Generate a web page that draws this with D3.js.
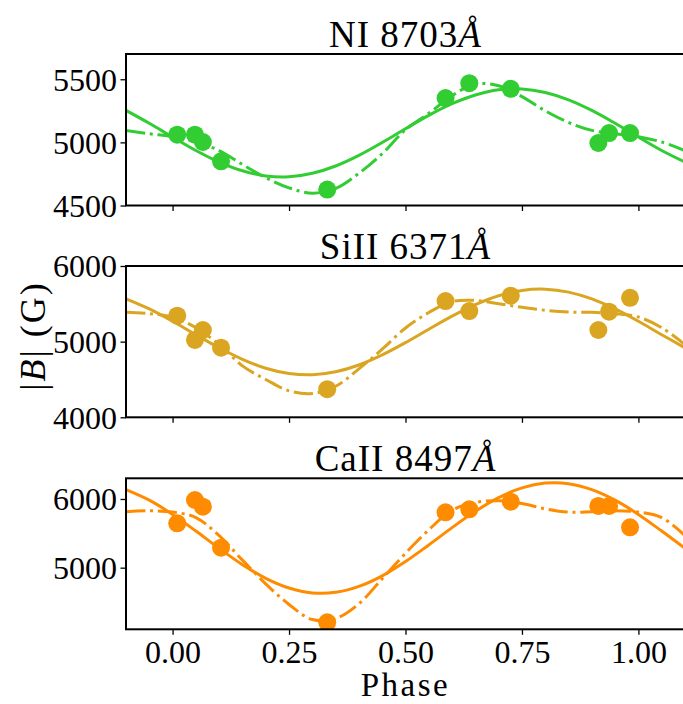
<!DOCTYPE html>
<html>
<head>
<meta charset="utf-8">
<script src="https://cdn.jsdelivr.net/npm/d3@7"></script>
<style>
  html, body { margin: 0; padding: 0; background: #fff; }
  svg { display: block; }
  text { font-family: "Liberation Serif", "DejaVu Serif", serif; fill: #000; }
</style>
</head>
<body>
<svg id="chart" width="683" height="704"></svg>
<script>
// ---------------- DATA ----------------
const phases = [0.010, 0.048, 0.065, 0.104, 0.332, 0.586, 0.637, 0.726, 0.914, 0.937, 0.982];

const niValues   = [5061, 5061, 5003, 4850, 4626, 5351, 5469, 5424, 4995, 5074, 5074];
const siValues   = [5343, 5022, 5154, 4921, 4372, 5537, 5405, 5607, 5154, 5396, 5580];
const caValues   = [5646, 5985, 5888, 5291, 4205, 5806, 5850, 5961, 5898, 5898, 5588];

const curvePhases = [-0.10, -0.05, 0.00, 0.05, 0.10, 0.15, 0.20, 0.25, 0.30, 0.35, 0.40, 0.45,
                      0.50, 0.55, 0.60, 0.65, 0.70, 0.75, 0.80, 0.85, 0.90, 0.95, 1.00, 1.05, 1.10];

const niSolid = [5253, 5151, 5042, 4936, 4844, 4775, 4734, 4727, 4755, 4813, 4897, 4999,
                 5108, 5214, 5306, 5375, 5416, 5423, 5395, 5337, 5253, 5151, 5042, 4936, 4844];
const niDashDot = [5095, 5068, 5045, 5003, 4935, 4825, 4720, 4640, 4598, 4635, 4755, 4910,
                   5100, 5230, 5370, 5462, 5448, 5362, 5250, 5158, 5095, 5068, 5045, 5003, 4935];

const siSolid = [5565, 5432, 5269, 5092, 4919, 4767, 4649, 4579, 4562, 4601, 4691, 4824,
                 4987, 5164, 5337, 5489, 5607, 5677, 5694, 5655, 5565, 5432, 5269, 5092, 4919];
const siDashDot = [5388, 5370, 5325, 5185, 4960, 4680, 4500, 4350, 4315, 4410, 4640, 4900,
                   5180, 5385, 5530, 5545, 5500, 5455, 5415, 5392, 5388, 5370, 5325, 5185, 4960];

const caSolid = [6137, 5983, 5775, 5533, 5281, 5044, 4845, 4704, 4633, 4641, 4727, 4881,
                 5089, 5331, 5583, 5820, 6019, 6161, 6231, 6223, 6137, 5983, 5775, 5533, 5281];
const caDashDot = [5815, 5828, 5810, 5730, 5465, 5110, 4765, 4465, 4245, 4260, 4475, 4840,
                   5210, 5550, 5835, 5950, 5975, 5935, 5855, 5808, 5815, 5828, 5810, 5730, 5465];

const panelTitles = ["NI 8703", "SiII 6371", "CaII 8497"];
const panelColors = ["#32CD32", "#DAA520", "#FF8C00"];
const panelDomains = [[4500, 5700], [4000, 6000], [4103, 6301]];
const panelYTicks = [[4500, 5000, 5500], [4000, 5000, 6000], [5000, 6000]];
const xTicks = [0.00, 0.25, 0.50, 0.75, 1.00];
const xDomain = [-0.1, 1.1];

// ---------------- LAYOUT ----------------
const svg = d3.select("#chart");
const left = 126, right = 685;
const panelTops = [54, 266, 478.3];
const panelBottoms = [205.5, 417.3, 629.3];

const x = d3.scaleLinear().domain(xDomain).range([left, right]);

const panels = [
  { values: niValues, solid: niSolid, dash: niDashDot },
  { values: siValues, solid: siSolid, dash: siDashDot },
  { values: caValues, solid: caSolid, dash: caDashDot }
];

const tickFont = 32;

panels.forEach((p, i) => {
  const top = panelTops[i], bottom = panelBottoms[i];
  const y = d3.scaleLinear().domain(panelDomains[i]).range([bottom, top]);
  const color = panelColors[i];
  const g = svg.append("g");

  const clipId = "clip" + i;
  svg.append("clipPath").attr("id", clipId)
    .append("rect").attr("x", left).attr("y", top)
    .attr("width", right - left).attr("height", bottom - top);

  const line = d3.line()
    .x((d, k) => x(curvePhases[k]))
    .y(d => y(d))
    .curve(d3.curveCatmullRom.alpha(0.5));

  const plot = g.append("g").attr("clip-path", `url(#${clipId})`);
  plot.append("path").datum(p.solid)
    .attr("d", line).attr("fill", "none")
    .attr("stroke", color).attr("stroke-width", 3);
  plot.append("path").datum(p.dash)
    .attr("d", line).attr("fill", "none")
    .attr("stroke", color).attr("stroke-width", 3)
    .attr("stroke-dasharray", "19.2,4.8,3,4.8");

  plot.selectAll("circle").data(p.values).enter().append("circle")
    .attr("cx", (d, k) => x(phases[k]))
    .attr("cy", d => y(d))
    .attr("r", 9)
    .attr("fill", color);

  // axes
  const yAxis = d3.axisLeft(y).tickValues(panelYTicks[i]).tickSize(5.5).tickPadding(3.5)
    .tickFormat(d3.format("d"));
  const ya = g.append("g").attr("transform", `translate(${left},0)`).call(yAxis);
  ya.select(".domain").remove();
  ya.selectAll(".tick line").attr("stroke", "#000").attr("stroke-width", 1.3);
  ya.selectAll(".tick text").attr("font-size", tickFont)
    .attr("font-family", "Liberation Serif").attr("dy", "0.34em");

  const xAxis = d3.axisBottom(x).tickValues(xTicks).tickSize(5.5).tickPadding(5.5)
    .tickFormat(i === 2 ? d3.format(".2f") : "");
  const xa = g.append("g").attr("transform", `translate(0,${bottom})`).call(xAxis);
  xa.select(".domain").remove();
  xa.selectAll(".tick line").attr("stroke", "#000").attr("stroke-width", 1.3);
  xa.selectAll(".tick text").attr("font-size", tickFont)
    .attr("font-family", "Liberation Serif").attr("dy", "0.71em");

  // frame
  g.append("rect").attr("x", left).attr("y", top)
    .attr("width", right - left).attr("height", bottom - top)
    .attr("fill", "none").attr("stroke", "#000").attr("stroke-width", 2);

  // title
  const t = g.append("text")
    .attr("x", (left + right) / 2).attr("y", top - 7)
    .attr("text-anchor", "middle").attr("font-size", 37)
    .attr("letter-spacing", 1);
  t.append("tspan").text(panelTitles[i]);
  t.append("tspan").attr("font-style", "italic").text("Å");
});

// axis labels
svg.append("text")
  .attr("x", (left + right) / 2).attr("y", 696)
  .attr("text-anchor", "middle").attr("font-size", 33)
  .attr("letter-spacing", 2.5)
  .text("Phase");

const yl = svg.append("text")
  .attr("transform", "translate(45,336) rotate(-90)")
  .attr("text-anchor", "middle").attr("font-size", 36)
  .attr("letter-spacing", 2);
yl.append("tspan").text("|");
yl.append("tspan").attr("font-style", "italic").text("B");
yl.append("tspan").text("| (G)");
</script>
</body>
</html>
